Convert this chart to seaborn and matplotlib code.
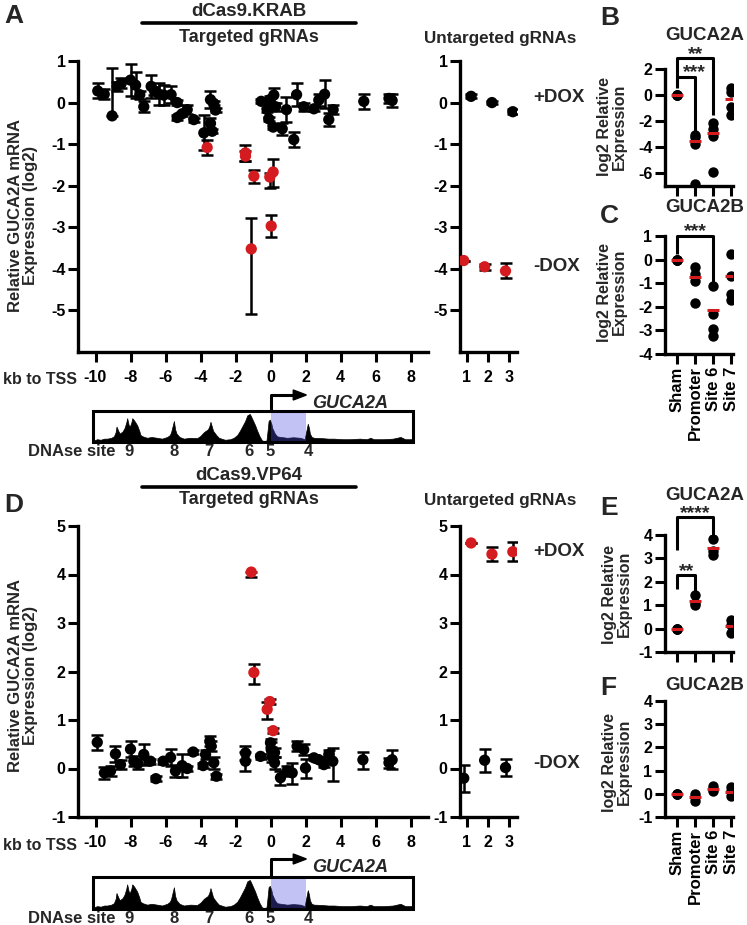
import numpy as np
import pandas as pd
import matplotlib
matplotlib.use('Agg')
import matplotlib.pyplot as plt
import seaborn as sns
from matplotlib.lines import Line2D
from matplotlib.patches import Rectangle, Polygon

# ---------------- DATA ----------------
# Panel A : dCas9.KRAB, targeted gRNAs (kb to TSS, log2 expr, err low, err high, hit)
krab_kb = [-9.87, -9.5, -9.05, -8.76, -8.53, -8.0, -7.71, -7.47, -7.24, -6.82, -6.63, -6.36, -6.1,
           -5.68, -5.33, -5.33, -5.05, -4.76, -4.38, -3.81, -3.43, -3.33, -3.43, -3.24, -3.14,
           -3.62, -1.43, -1.43, -0.95, -1.1, -0.04, 0.15, 0.04,
           -0.53, -0.19, -0.04, -0.1, 0.15, 0.19, 0.29, 0.67, 0.91, 1.33, 1.49, 1.9, 2.48, 2.76,
           3.09, 3.33, 3.58, 5.33, 6.77, 6.95]
krab_val = [0.28, 0.2, -0.32, 0.39, 0.46, 0.54, 0.42, 0.19, -0.1, 0.39, 0.28, 0.2, 0.18,
            0.19, 0.0, -0.36, -0.27, -0.17, -0.41, -0.73, -0.5, -0.69, 0.07, -0.02, -0.18,
            -1.08, -1.21, -1.29, -1.77, -3.52, -1.79, -1.67, -2.97,
            0.03, -0.17, 0.07, -0.39, -0.59, 0.18, -0.1, -0.63, -0.17, -0.89, 0.19, -0.1, -0.15, 0.06,
            0.2, -0.41, -0.17, 0.03, 0.1, 0.05]
krab_lo = [0.18, 0.12, 0.0, 0.1, 0.12, 0.38, 0.32, 0.1, 0.13, 0.27, 0.1, 0.27, 0.25,
           0.2, 0.05, 0.05, 0.05, 0.1, 0.05, 0.42, 0.12, 0.05, 0.2, 0.05, 0.05,
           0.19, 0.2, 0.12, 0.16, 1.56, 0.27, 0.36, 0.27,
           0.05, 0.05, 0.1, 0.05, 0.05, 0.18, 0.1, 0.14, 0.3, 0.18, 0.27, 0.1, 0.05, 0.15,
           0.34, 0.16, 0.1, 0.18, 0.1, 0.15]
krab_hi = [0.18, 0.12, 1.16, 0.1, 0.12, 0.38, 0.32, 0.1, 0.13, 0.27, 0.1, 0.27, 0.25,
           0.2, 0.05, 0.05, 0.05, 0.1, 0.05, 0.42, 0.12, 0.05, 0.2, 0.05, 0.05,
           0.19, 0.2, 0.12, 0.16, 0.74, 0.1, 0.32, 0.27,
           0.05, 0.05, 0.1, 0.05, 0.05, 0.18, 0.1, 0.14, 0.3, 0.18, 0.27, 0.1, 0.05, 0.15,
           0.34, 0.16, 0.1, 0.18, 0.1, 0.15]
krab_hit = [0]*25 + [1]*8 + [0]*20

# Panel D : dCas9.VP64, targeted gRNAs
vp64_kb = [-9.9, -9.49, -9.14, -8.86, -8.57, -8.0, -7.81, -7.58, -7.24, -6.86, -6.55, -6.13, -5.71,
           -5.43, -5.05, -4.76, -4.42, -3.85, -3.71, -3.47, -3.39, -3.24, -3.09,
           -1.43, -1.43, -0.57,
           -1.1, -0.95, -0.04, -0.19, 0.15,
           0.0, 0.04, 0.1, 0.23, 0.23, 0.57, 0.95, 1.24, 1.52, 1.9, 2.0, 2.48, 2.76, 3.05,
           3.33, 3.56, 5.28, 6.77, 6.95]
vp64_val = [0.54, -0.09, -0.05, 0.3, 0.08, 0.4, 0.15, 0.1, 0.29, 0.15, -0.21, 0.15, 0.23,
            -0.05, 0.06, 0.0, 0.34, 0.06, 0.29, 0.56, 0.46, 0.12, -0.16,
            0.32, 0.15, 0.25,
            4.05, 1.98, 1.38, 1.22, 0.78,
            0.53, 0.39, 0.24, 0.33, 0.12, -0.19, -0.05, -0.09, 0.46, 0.39, 0.01, 0.22, 0.18, 0.08,
            0.29, 0.15, 0.18, 0.12, 0.18]
vp64_lo = [0.15, 0.13, 0.1, 0.16, 0.1, 0.16, 0.1, 0.1, 0.22, 0.05, 0.05, 0.05, 0.17,
           0.12, 0.23, 0.05, 0.05, 0.05, 0.1, 0.1, 0.1, 0.12, 0.05,
           0.15, 0.2, 0.05,
           0.1, 0.23, 0.05, 0.2, 0.05,
           0.08, 0.15, 0.1, 0.1, 0.12, 0.14, 0.1, 0.22, 0.1, 0.12, 0.2, 0.05, 0.05, 0.05,
           0.1, 0.41, 0.2, 0.1, 0.2]
vp64_hi = [0.15, 0.13, 0.1, 0.16, 0.1, 0.16, 0.1, 0.1, 0.22, 0.05, 0.05, 0.05, 0.17,
           0.12, 0.23, 0.05, 0.05, 0.05, 0.1, 0.1, 0.1, 0.12, 0.05,
           0.15, 0.2, 0.05,
           0.0, 0.18, 0.05, 0.15, 0.05,
           0.08, 0.15, 0.1, 0.1, 0.12, 0.14, 0.1, 0.2, 0.1, 0.12, 0.18, 0.05, 0.05, 0.05,
           0.1, 0.27, 0.16, 0.1, 0.2]
vp64_hit = [0]*26 + [1]*5 + [0]*19

# Untargeted gRNAs
unt_gRNA = [1, 2, 3]
krab_plus = [0.15, 0.0, -0.22]
krab_plus_err = [0.05, 0.03, 0.06]
krab_minus = [-3.8, -3.95, -4.05]
krab_minus_err = [0.0, 0.07, 0.18]
vp64_plus = [4.65, 4.42, 4.47]
vp64_plus_err = [0.0, 0.15, 0.2]
vp64_minus = [-0.2, 0.17, 0.02]
vp64_minus_err = [0.28, 0.24, 0.18]

# B,C,E,F
groups = ['Sham', 'Promoter', 'Site 6', 'Site 7']
b_vals = {'Sham': [0, 0, 0, 0], 'Promoter': [-3.1, -3.25, -3.8, -6.85],
          'Site 6': [-2.15, -2.6, -3.15, -5.95], 'Site 7': [0.55, 0.25, -0.95, -1.55]}
b_center = [0.0, -3.54, -2.9, -0.3]
c_vals = {'Sham': [0, 0, 0, 0], 'Promoter': [-0.3, -0.6, -0.9, -1.84],
          'Site 6': [-1.1, -2.3, -2.95, -3.25], 'Site 7': [0.25, -0.7, -1.45, -1.7]}
c_center = [0.0, -0.75, -2.15, -0.7]
e_vals = {'Sham': [0, 0, 0], 'Promoter': [1.45, 1.1, 1.0],
          'Site 6': [3.85, 3.3, 3.15], 'Site 7': [0.35, 0.15, -0.2]}
e_center = [0.0, 1.2, 3.45, 0.13]
f_vals = {'Sham': [0, 0, 0], 'Promoter': [0.0, -0.15, -0.3],
          'Site 6': [0.35, 0.2, 0.1], 'Site 7': [0.3, 0.1, -0.1]}
f_center = [0.0, -0.15, 0.2, 0.08]

# DNase track
dnase_kb = [-10.13, -9.9, -9.71, -9.5, -9.33, -9.1, -8.95, -8.85, -8.8, -8.7, -8.61, -8.45, -8.34,
            -8.24, -8.19, -8.1, -8.04, -7.95, -7.9, -7.83, -7.77, -7.7, -7.62, -7.5, -7.43, -7.3,
            -7.05, -6.8, -6.48, -6.2, -5.9, -5.75, -5.68, -5.6, -5.52, -5.45, -5.37, -5.2, -4.95,
            -4.6, -4.19, -4.0, -3.81, -3.7, -3.58, -3.5, -3.43, -3.35, -3.28, -3.1, -2.95,
            -2.6, -2.29, -2.1, -1.9, -1.75, -1.62, -1.45, -1.33, -1.25, -1.18, -1.1, -0.99, -0.88,
            -0.76, -0.62, -0.48, -0.35, -0.23, -0.15, -0.11, -0.04, 0.05, 0.1, 0.25, 0.38, 0.6,
            0.95, 1.3, 1.71, 1.95, 2.05, 2.13, 2.2, 2.25, 2.35, 2.48, 2.9, 3.3, 3.62, 4.1, 4.57,
            5.1, 5.5, 5.71, 5.9, 6.48, 7.0, 7.43, 7.7, 8.1]
dnase_h = [0.05, 0.1, 0.08, 0.12, 0.12, 0.15, 0.2, 0.35, 0.55, 0.4, 0.3, 0.38, 0.5,
           0.7, 0.85, 0.6, 0.55, 0.7, 0.85, 0.8, 0.75, 0.68, 0.6, 0.4, 0.25, 0.2,
           0.15, 0.18, 0.15, 0.12, 0.18, 0.25, 0.35, 0.55, 0.75, 0.45, 0.3, 0.18, 0.12,
           0.15, 0.14, 0.22, 0.35, 0.4, 0.45, 0.55, 0.72, 0.55, 0.4, 0.25, 0.15,
           0.08, 0.1, 0.15, 0.25, 0.4, 0.55, 0.75, 0.95, 0.98, 1.0, 0.9, 0.75, 0.6,
           0.4, 0.2, 0.05, 0.04, 0.05, 0.5, 0.75, 0.8, 0.65, 0.5, 0.3, 0.2, 0.18,
           0.15, 0.17, 0.15, 0.1, 0.4, 0.65, 0.5, 0.3, 0.18, 0.15, 0.14, 0.12, 0.12, 0.1, 0.1,
           0.12, 0.1, 0.15, 0.1, 0.1, 0.12, 0.18, 0.1, 0.1]
dnase_sites = ['9', '8', '7', '6', '5', '4']
dnase_site_kb = [-8.1, -5.5, -3.5, -1.25, 0.0, 2.15]
kb_ticks = [-10, -8, -6, -4, -2, 0, 2, 4, 6, 8]

# ---------------- STYLE ----------------
sns.set_theme(style='ticks')
plt.rcParams['font.family'] = ['Liberation Sans', 'DejaVu Sans']
plt.rcParams['font.weight'] = 'bold'
plt.rcParams['axes.labelweight'] = 'bold'
plt.rcParams['axes.unicode_minus'] = False
RED = '#d41c20'
W, H = 747, 925
fig = plt.figure(figsize=(W / 100, H / 100), dpi=100)


def rect(x0, y0, x1, y1):
    return [x0 / W, 1 - y1 / H, (x1 - x0) / W, (y1 - y0) / H]


def ftext(x, y, s, **kw):
    fig.text(x / W, 1 - y / H, s, **kw)


def style(ax, fs=11.5):
    for s in ['top', 'right']:
        ax.spines[s].set_visible(False)
    for s in ['left', 'bottom']:
        ax.spines[s].set_linewidth(2.4)
        ax.spines[s].set_color('black')
    ax.tick_params(width=2.2, length=7, labelsize=fs, pad=2, colors='black')
    ax.set_xlabel('')
    ax.set_ylabel('')


def main_panel(px, kb, val, lo, hi, hit, ylim, yticks):
    ax = fig.add_axes(rect(78, px[0], 428, px[1]))
    df = pd.DataFrame({'kb': kb, 'val': val, 'lo': lo, 'hi': hi, 'hit': hit})
    ax.errorbar(df['kb'], df['val'], yerr=[df['lo'], df['hi']], fmt='none', ecolor='black',
                elinewidth=1.8, capsize=4.5, capthick=1.8, zorder=1)
    sns.scatterplot(data=df, x='kb', y='val', hue='hit', palette={0: 'black', 1: RED},
                    s=66, edgecolor='none', linewidth=0, legend=False, ax=ax, zorder=3)
    ax.set_xlim(-11, 9)
    ax.set_ylim(*ylim)
    ax.set_xticks(kb_ticks)
    ax.set_yticks(yticks)
    style(ax)
    ax.tick_params(axis='x', pad=6)
    return ax


def unt_panel(px, plus, plus_err, minus, minus_err, plus_col, minus_col, ylim, yticks):
    ax = fig.add_axes(rect(460, px[0], 517, px[1]))
    df = pd.DataFrame({'g': unt_gRNA * 2, 'val': plus + minus, 'err': plus_err + minus_err,
                       'dox': ['+'] * 3 + ['-'] * 3})
    df['pos'] = df['g'] + df['dox'].map({'+': 0.2, '-': -0.15})
    ax.errorbar(df['pos'], df['val'], yerr=df['err'], fmt='none', ecolor='black',
                elinewidth=1.8, capsize=4.5, capthick=1.8, zorder=1)
    sns.scatterplot(data=df, x='pos', y='val', hue='dox', palette={'+': plus_col, '-': minus_col},
                    s=66, edgecolor='none', linewidth=0, legend=False, ax=ax, zorder=3)
    ax.set_xlim(0.67, 3.4)
    ax.set_ylim(*ylim)
    ax.set_xticks(unt_gRNA)
    ax.set_yticks(yticks)
    style(ax)
    ax.tick_params(axis='x', pad=6)
    return ax


def dot_panel(px, vals, center, ylim, yticks, labels):
    ax = fig.add_axes(rect(665, px[0], 733, px[1]))
    df = pd.DataFrame([(g, v) for g in groups for v in vals[g]], columns=['group', 'val'])
    sns.stripplot(data=df, x='group', y='val', order=groups, color='black', jitter=False,
                  size=7.5, linewidth=0, ax=ax, zorder=2)
    xs = np.arange(len(groups))
    ax.hlines(center, xs - 0.33, xs + 0.33, color=RED, lw=2.2, zorder=4)
    ax.set_xlim(-0.67, 3.1)
    ax.set_ylim(*ylim)
    ax.set_yticks(yticks)
    style(ax, fs=11.5)
    ax.set_xticks(xs)
    if labels:
        ax.set_xticklabels(groups, rotation=90, fontsize=12, fontweight='bold')
    else:
        ax.set_xticklabels([])
    return ax


def bracket(ax, x0, x1, ytop, yl, yr, txt, xt=None):
    ax.plot([x0, x0, x1, x1], [yl, ytop, ytop, yr], color='black', lw=2.2, clip_on=False,
            solid_capstyle='butt', zorder=5)
    if xt is None:
        xt = (x0 + x1) / 2
    ax.annotate(txt, xy=(xt, ytop), xytext=(0, -0.5), textcoords='offset points',
                ha='center', va='baseline', fontsize=14, fontweight='bold',
                annotation_clip=False)


def track(y0, y1, box_top, box_bot, arrow_y, label_y, gene_y):
    ax = fig.add_axes(rect(78, y0, 428, y1))
    ax.set_xlim(-11, 9)
    ax.set_ylim(y1, y0)
    ax.axis('off')
    hts = np.array(dnase_h) * (box_bot - box_top - 3)
    ax.fill_between(dnase_kb, box_bot, box_bot - hts, color='black', lw=0.5, zorder=2)
    ax.add_patch(Rectangle((dnase_kb[0] - 0.04, box_top), dnase_kb[-1] - dnase_kb[0] + 0.08,
                           box_bot - box_top, fill=False, ec='black', lw=2.2, zorder=4))
    ax.add_patch(Rectangle((0, box_top), 2.0, box_bot - box_top, color='#5050e0',
                           alpha=0.35, lw=0, zorder=3))
    ax.plot([0, 0, 1.4], [box_top, arrow_y, arrow_y], color='black', lw=2.2, zorder=5,
            solid_capstyle='butt')
    ax.add_patch(Polygon([(1.3, arrow_y - 5), (2.05, arrow_y), (1.3, arrow_y + 5)],
                         closed=True, color='black', zorder=5))
    ax.text(2.4, gene_y, 'GUCA2A', fontsize=13, fontweight='bold', style='italic',
            ha='left', va='center')
    for s, k in zip(dnase_sites, dnase_site_kb):
        ax.text(k, label_y, s, fontsize=12, fontweight='bold', ha='center', va='center',
                clip_on=False)
    ax.text(-8.85, label_y, 'DNAse site', fontsize=12, fontweight='bold', ha='right',
            va='center', clip_on=False)
    return ax


# ---------------- PANEL A ----------------
main_panel((61, 352), krab_kb, krab_val, krab_lo, krab_hi, krab_hit, (-6, 1), [-5, -4, -3, -2, -1, 0, 1])
unt_panel((61, 352), krab_plus, krab_plus_err, krab_minus, krab_minus_err, 'black', RED,
          (-6, 1), [-5, -4, -3, -2, -1, 0, 1])
track(385, 460, 411, 442, 395, 452, 403)

# ---------------- PANEL D ----------------
main_panel((526, 817), vp64_kb, vp64_val, vp64_lo, vp64_hi, vp64_hit, (-1, 5), [-1, 0, 1, 2, 3, 4, 5])
unt_panel((526, 817), vp64_plus, vp64_plus_err, vp64_minus, vp64_minus_err, RED, 'black',
          (-1, 5), [-1, 0, 1, 2, 3, 4, 5])
track(850, 925, 877, 909, 859, 918.5, 868)

# ---------------- B, C, E, F ----------------
axB = dot_panel((69, 186), b_vals, b_center, (-7, 2), [-6, -4, -2, 0, 2], False)
bracket(axB, 0, 2, 2.85, 0.55, -1.55, '**')
bracket(axB, 0, 1, 1.4, 0.6, -2.8, '***', xt=0.95)
axC = dot_panel((236, 354), c_vals, c_center, (-4, 1), [-4, -3, -2, -1, 0, 1], True)
bracket(axC, 0, 2, 1.02, 0.25, -0.97, '***')
axE = dot_panel((535, 652), e_vals, e_center, (-1, 4), [-1, 0, 1, 2, 3, 4], False)
bracket(axE, 0, 2, 4.76, 3.35, 4.0, '****')
bracket(axE, 0, 1, 2.27, 1.7, 1.55, '**')
axF = dot_panel((701, 817), f_vals, f_center, (-1, 4), [-1, 0, 1, 2, 3, 4], True)

# ---------------- TEXTS ----------------
for y_h, y_l, y_t, name in [(11, 23, 38, 'dCas9.KRAB'), (475, 487, 500, 'dCas9.VP64')]:
    ftext(249, y_h, name, ha='center', va='center', fontsize=13.5)
    fig.add_artist(Line2D([142 / W, 356 / W], [1 - y_l / H] * 2, lw=2.6, color='black'))
    ftext(249, y_t, 'Targeted gRNAs', ha='center', va='center', fontsize=13)
    ftext(500, y_t, 'Untargeted gRNAs', ha='center', va='center', fontsize=12.3)

ftext(533, 98, '+DOX', ha='left', va='center', fontsize=13.5)
ftext(533, 267, '-DOX', ha='left', va='center', fontsize=13.5)
ftext(533, 552, '+DOX', ha='left', va='center', fontsize=13.5)
ftext(533, 763, '-DOX', ha='left', va='center', fontsize=13.5)

ftext(3, 380, 'kb to TSS', ha='left', va='center', fontsize=11.5)
ftext(3, 845, 'kb to TSS', ha='left', va='center', fontsize=11.5)

ylab = 'Relative GUCA2A mRNA\nExpression (log2)'
ftext(23, 215, ylab, ha='center', va='center', rotation=90, fontsize=12, linespacing=1.05)
ftext(23, 675, ylab, ha='center', va='center', rotation=90, fontsize=12, linespacing=1.05)
ylab2 = 'log2 Relative\nExpression'
ftext(612, 127, ylab2, ha='center', va='center', rotation=90, fontsize=11.5, linespacing=1.05)
ftext(612, 292, ylab2, ha='center', va='center', rotation=90, fontsize=11.5, linespacing=1.05)
ftext(617, 594, ylab2, ha='center', va='center', rotation=90, fontsize=11.5, linespacing=1.05)
ftext(617, 762, ylab2, ha='center', va='center', rotation=90, fontsize=11.5, linespacing=1.05)

ftext(705, 36, 'GUCA2A', ha='center', va='center', fontsize=13.5)
ftext(705, 208, 'GUCA2B', ha='center', va='center', fontsize=13.5)
ftext(705, 495, 'GUCA2A', ha='center', va='center', fontsize=13.5)
ftext(705, 685, 'GUCA2B', ha='center', va='center', fontsize=13.5)

for x, y, s in [(4, 16, 'A'), (4, 505, 'D'), (600, 18, 'B'), (600, 216, 'C'),
                (600, 508, 'E'), (600, 688, 'F')]:
    ftext(x, y, s, ha='left', va='center', fontsize=19)

fig.savefig('out.png', dpi=100)
